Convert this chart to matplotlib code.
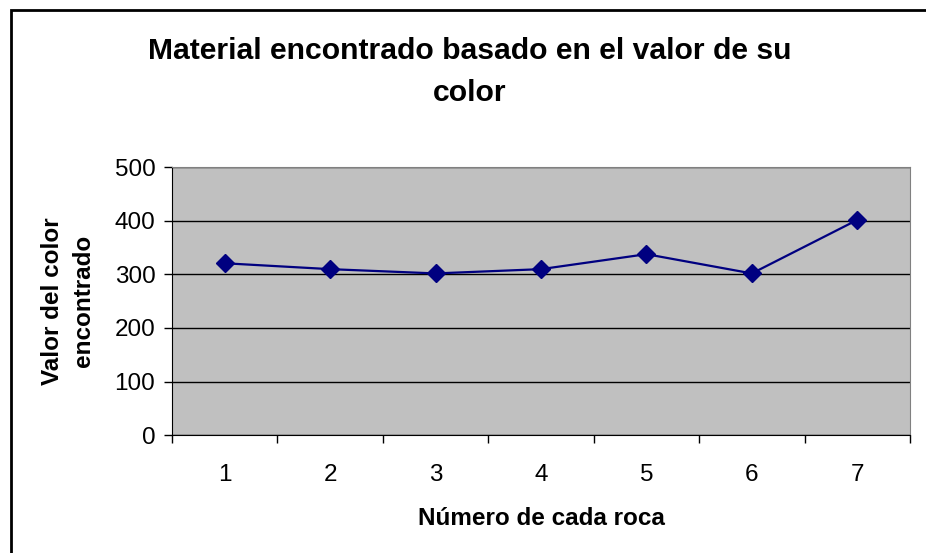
import numpy as np
import matplotlib.pyplot as plt
from matplotlib.patches import Rectangle

plt.rcParams['font.family'] = ['Liberation Sans', 'DejaVu Sans']

# datos
rocas = [1, 2, 3, 4, 5, 6, 7]
valores = [321, 310, 302, 310, 338, 302, 402]
yticks = [0, 100, 200, 300, 400, 500]

fig = plt.figure(figsize=(9.26, 5.53), dpi=100)
# marco exterior del grafico (se sale por la derecha y abajo)
fig.patches.append(Rectangle((11/926, -0.1), 1.1, 1 - 10/553 + 0.1, transform=fig.transFigure,
                             fill=False, edgecolor='black', linewidth=2))

ax = fig.add_axes([172/926, 118/553, 738/926, 267.5/553])
ax.set_facecolor('#C0C0C0')
ax.plot(rocas, valores, color='#000080', marker='D', markersize=9, linewidth=1.6, zorder=3)

ax.set_xlim(0.5, 7.5)
ax.set_ylim(0, 500)
ax.set_yticks(yticks)
ax.set_xticks(rocas)
ax.set_xticks(np.arange(0.5, 8, 1), minor=True)
ax.tick_params(axis='x', which='major', length=0, pad=21, labelsize=17.5)
ax.tick_params(axis='x', which='minor', length=6, direction='out', width=1)
ax.tick_params(axis='y', length=6, direction='out', width=1, pad=6, labelsize=17.5)
ax.grid(axis='y', color='black', linewidth=1)
ax.set_axisbelow(True)

for s in ['top', 'right']:
    ax.spines[s].set_color('#808080')
for s in ['left', 'bottom']:
    ax.spines[s].set_color('black')

ax.set_xlabel('Número de cada roca', fontsize=17.5, fontweight='bold', labelpad=15)
ax.set_ylabel('Valor del color\nencontrado', fontsize=17.5, fontweight='bold', labelpad=14,
              linespacing=1.45)
fig.text(470/926, 1 - 72/553, 'Material encontrado basado en el valor de su\ncolor',
         ha='center', va='center', fontsize=21.7, fontweight='bold', linespacing=1.6)

fig.savefig('out.png', dpi=100)
